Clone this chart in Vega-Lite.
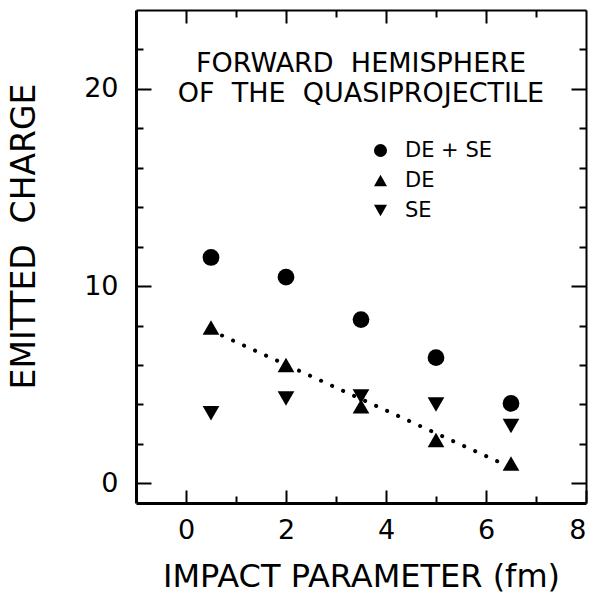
{
  "$schema": "https://vega.github.io/schema/vega-lite/v6.json",
  "width": 450,
  "height": 493,
  "autosize": "none",
  "padding": {"left": 136, "top": 10, "right": 8, "bottom": 92},
  "background": "white",
  "config": {"view": {"stroke": null}, "font": "DejaVu Sans"},
  "title": {
    "text": ["FORWARD\u00a0 HEMISPHERE", "OF\u00a0 THE\u00a0 QUASIPROJECTILE"],
    "orient": "top", "anchor": "middle", "frame": "group",
    "offset": -126, "baseline": "bottom",
    "fontSize": 27, "fontWeight": "normal", "lineHeight": 30,
    "font": "DejaVu Sans", "color": "black"
  },
  "layer": [
    {
      "data": {"values": [{"b": 0.5, "q": 7.75}, {"b": 6.5, "q": 0.8}]},
      "mark": {"type": "line", "color": "black", "strokeWidth": 4, "strokeCap": "round", "strokeDash": [0.1, 12]},
      "encoding": {
        "x": {"field": "b", "type": "quantitative", "scale": {"domain": [-1, 8], "nice": false, "zero": false},
          "axis": {"orient": "top", "values": [0,1,2,3,4,5,6,7], "labels": false, "title": null, "grid": false,
            "domainColor": "black", "domainWidth": 2, "tickColor": "black", "tickWidth": 2,
            "tickSize": {"condition": {"test": "datum.value % 2 === 0", "value": -13}, "value": -7}}},
        "y": {"field": "q", "type": "quantitative", "scale": {"domain": [-1, 24], "nice": false, "zero": false},
          "axis": {"orient": "right", "values": [0,2,4,6,8,10,12,14,16,18,20,22], "labels": false, "title": null, "grid": false,
            "domainColor": "black", "domainWidth": 2, "tickColor": "black", "tickWidth": 2,
            "tickSize": {"condition": {"test": "datum.value % 10 === 0", "value": -15}, "value": -7}}}
      }
    },
    {
      "data": {"values": [
        {"series": "DE + SE", "b": 0.5, "q": 11.45},
        {"series": "DE + SE", "b": 2.0, "q": 10.45},
        {"series": "DE + SE", "b": 3.5, "q": 8.3},
        {"series": "DE + SE", "b": 5.0, "q": 6.37},
        {"series": "DE + SE", "b": 6.5, "q": 4.05},
        {"series": "DE", "b": 0.5, "q": 7.9},
        {"series": "DE", "b": 2.0, "q": 6.0},
        {"series": "DE", "b": 3.5, "q": 3.9},
        {"series": "DE", "b": 5.0, "q": 2.2},
        {"series": "DE", "b": 6.5, "q": 1.0},
        {"series": "SE", "b": 0.5, "q": 3.55},
        {"series": "SE", "b": 2.0, "q": 4.3},
        {"series": "SE", "b": 3.5, "q": 4.4},
        {"series": "SE", "b": 5.0, "q": 4.0},
        {"series": "SE", "b": 6.5, "q": 2.9}
      ]},
      "mark": {"type": "point", "filled": true, "color": "black", "opacity": 1, "size": 280},
      "encoding": {
        "x": {"field": "b", "type": "quantitative", "scale": {"domain": [-1, 8], "nice": false, "zero": false},
          "axis": {"orient": "bottom", "values": [0,1,2,3,4,5,6,7,8], "grid": false,
            "labelExpr": "datum.value % 2 === 0 ? datum.label : ''",
            "labelFontSize": 27, "labelColor": "black", "labelPadding": 27, "labelFont": "DejaVu Sans",
            "domainColor": "black", "domainWidth": 3, "tickColor": "black", "tickWidth": 2,
            "tickSize": {"condition": {"test": "datum.value % 2 === 0", "value": -13}, "value": -7},
            "title": "IMPACT PARAMETER (fm)", "titleFontSize": 32, "titleFontWeight": "normal", "titleColor": "black",
            "titleFont": "DejaVu Sans", "titlePadding": 18}},
        "y": {"field": "q", "type": "quantitative", "scale": {"domain": [-1, 24], "nice": false, "zero": false},
          "axis": {"orient": "left", "values": [0,2,4,6,8,10,12,14,16,18,20,22], "grid": false,
            "labelExpr": "datum.value % 10 === 0 ? datum.label : ''",
            "labelFontSize": 27, "labelColor": "black", "labelPadding": 33, "labelFont": "DejaVu Sans",
            "domainColor": "black", "domainWidth": 3, "tickColor": "black", "tickWidth": 2,
            "tickSize": {"condition": {"test": "datum.value % 10 === 0", "value": -15}, "value": -7},
            "title": "EMITTED\u00a0 CHARGE", "titleFontSize": 33, "titleFontWeight": "normal", "titleColor": "black",
            "titleFont": "DejaVu Sans", "titleX": -112, "titleY": 226, "titleAngle": -90, "titleBaseline": "middle", "titleAlign": "center"}},
        "shape": {"field": "series", "type": "nominal",
          "scale": {"domain": ["DE + SE", "DE", "SE"], "range": ["circle", "triangle-up", "triangle-down"]},
          "legend": {"orient": "none", "legendX": 234, "legendY": 130, "title": null, "padding": 0,
            "symbolSize": 170, "symbolFillColor": "black", "symbolStrokeWidth": 0, "symbolOpacity": 1,
            "labelFontSize": 21, "labelFont": "DejaVu Sans", "labelColor": "black", "labelOffset": 14, "rowPadding": 8}}
      }
    }
  ],
  "resolve": {"axis": {"x": "independent", "y": "independent"}}
}
